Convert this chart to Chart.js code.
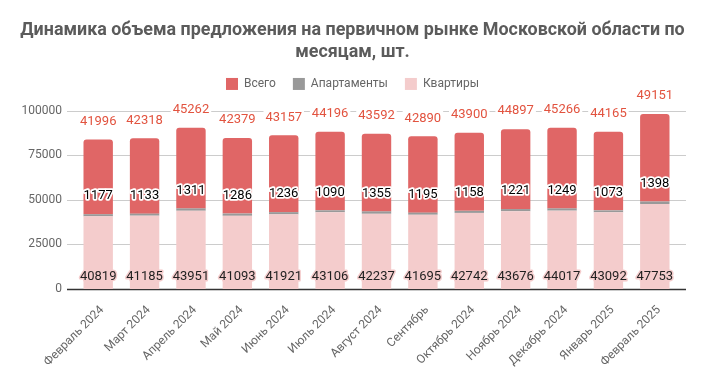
<!DOCTYPE html>
<html lang="ru">
<head>
<meta charset="utf-8">
<title>Динамика объема предложения</title>
<script src="https://cdn.jsdelivr.net/npm/chart.js@4.4.1/dist/chart.umd.min.js"></script>
<style>
  html, body { margin: 0; padding: 0; background: #fff; }
  #wrap { width: 705px; height: 378px; position: relative; }
</style>
</head>
<body>
<div id="wrap"><canvas id="chart"></canvas></div>
<script>
// ─── Data ───
const months = ['Февраль 2024', 'Март 2024', 'Апрель 2024', 'Май 2024', 'Июнь 2024', 'Июль 2024',
  'Август 2024', 'Сентябрь', 'Октябрь 2024', 'Ноябрь 2024', 'Декабрь 2024', 'Январь 2025', 'Февраль 2025'];
const flats = [40819, 41185, 43951, 41093, 41921, 43106, 42237, 41695, 42742, 43676, 44017, 43092, 47753];
const apartments = [1177, 1133, 1311, 1286, 1236, 1090, 1355, 1195, 1158, 1221, 1249, 1073, 1398];
const totals = [41996, 42318, 45262, 42379, 43157, 44196, 43592, 42890, 43900, 44897, 45266, 44165, 49151];
const yTicks = [0, 25000, 50000, 75000, 100000];

const FONT = 'Roboto, "Noto Sans", Arial, sans-serif';
const LEGEND_EXTRA = 11;

// ─── Grid lines a bit wider than the plot (Google Sheets look) ───
const wideGrid = {
  id: 'wideGrid',
  beforeDatasetsDraw(chart) {
    const { ctx, chartArea, scales } = chart;
    const left = chartArea.left - 8, right = chartArea.right + 8;
    ctx.save();
    yTicks.forEach(v => {
      const y = Math.round(scales.y.getPixelForValue(v)) + 0.5;
      ctx.beginPath();
      ctx.strokeStyle = v === 0 ? '#333333' : '#cccccc';
      ctx.lineWidth = v === 0 ? 1.5 : 1;
      ctx.moveTo(left, y);
      ctx.lineTo(right, y);
      ctx.stroke();
    });
    ctx.restore();
  }
};

// ─── Value labels ───
const valueLabels = {
  id: 'valueLabels',
  afterDatasetsDraw(chart) {
    const { ctx, scales } = chart;
    const base = scales.y.getPixelForValue(0);
    ctx.save();
    ctx.font = '13px ' + FONT;
    ctx.textAlign = 'center';
    ctx.textBaseline = 'middle';
    ctx.lineJoin = 'round';

    // Квартиры — near the axis
    chart.getDatasetMeta(0).data.forEach((bar, i) => {
      const t = String(flats[i]);
      ctx.lineWidth = 3;
      ctx.strokeStyle = '#f4cccc';
      ctx.strokeText(t, bar.x, base - 12);
      ctx.fillStyle = '#1f1f1f';
      ctx.fillText(t, bar.x, base - 12);
    });

    // Апартаменты — just above the grey slice
    chart.getDatasetMeta(1).data.forEach((bar, i) => {
      const t = String(apartments[i]);
      ctx.lineWidth = 3.5;
      ctx.strokeStyle = '#ffffff';
      ctx.strokeText(t, bar.x, bar.y - 18);
      ctx.fillStyle = '#000000';
      ctx.fillText(t, bar.x, bar.y - 18);
    });

    // Всего — above the bar on white
    chart.getDatasetMeta(2).data.forEach((bar, i) => {
      const t = String(totals[i]);
      const w = ctx.measureText(t).width;
      const y = bar.y - 18;
      ctx.fillStyle = '#ffffff';
      ctx.fillRect(bar.x - w / 2 - 2, y - 8, w + 4, 16);
      ctx.fillStyle = '#e2533f';
      ctx.fillText(t, bar.x, y);
    });
    ctx.restore();
  }
};

// ─── Legend height tweak ───
const legendSpace = {
  id: 'legendSpace',
  beforeInit(chart) {
    const fit = chart.legend.fit;
    chart.legend.fit = function () {
      fit.bind(chart.legend)();
      this.height += LEGEND_EXTRA;
    };
  }
};

new Chart(document.getElementById('chart'), {
  type: 'bar',
  data: {
    labels: months,
    datasets: [
      { label: 'Квартиры', data: flats, backgroundColor: '#f4cccc' },
      { label: 'Апартаменты', data: apartments, backgroundColor: '#999999' },
      { label: 'Всего', data: totals, backgroundColor: '#e06666',
        borderRadius: { topLeft: 3, topRight: 3, bottomLeft: 0, bottomRight: 0 }, borderSkipped: 'start' }
    ]
  },
  options: {
    responsive: true,
    maintainAspectRatio: false,
    animation: false,
    datasets: { bar: { barPercentage: 0.634, categoryPercentage: 1 } },
    layout: { padding: 0 },
    plugins: {
      title: {
        display: true,
        text: ['Динамика объема предложения на первичном рынке Московской области по', 'месяцам, шт.'],
        color: '#5b5b5b',
        font: { family: FONT, size: 17.9, weight: 'bold', lineHeight: 1.2 },
        padding: { top: 20, bottom: -2 }
      },
      legend: {
        reverse: true,
        labels: {
          boxWidth: 12, boxHeight: 12, padding: 17,
          color: '#666666',
          font: { family: FONT, size: 12 }
        }
      },
      tooltip: { enabled: false }
    },
    scales: {
      x: {
        stacked: true,
        grid: { display: false },
        border: { display: false },
        ticks: { color: '#666666', font: { family: FONT, size: 12 }, minRotation: 45, maxRotation: 45,
          autoSkip: false, padding: 6, labelOffset: 4 },
        afterFit(scale) { scale.height = 89; }
      },
      y: {
        stacked: true,
        min: 0, max: 100000,
        grid: { display: false, drawTicks: false },
        border: { display: false },
        ticks: { stepSize: 25000, padding: 13, color: '#666666', font: { family: FONT, size: 12 },
          callback: v => String(v) },
        afterFit(scale) { scale.width = 75; }
      },
      // empty right-hand spacer so the plot ends where the reference does
      yRight: {
        position: 'right',
        grid: { display: false, drawTicks: false },
        border: { display: false },
        ticks: { display: false },
        afterFit(scale) { scale.width = 27; }
      }
    }
  },
  plugins: [wideGrid, valueLabels, legendSpace]
});
</script>
</body>
</html>
